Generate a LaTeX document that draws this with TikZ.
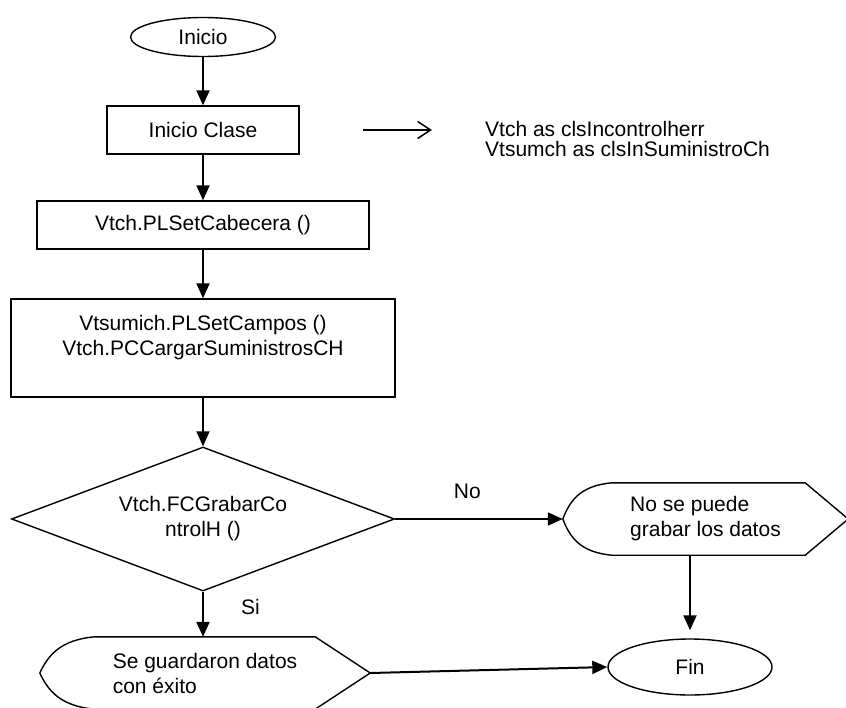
\documentclass[tikz,border=0pt]{standalone}
\usepackage{fontspec}
\setmainfont{Liberation Sans}
\usepackage{tikz}
\usetikzlibrary{
  arrows.meta,      % puntas Triangle y Straight Barb
  shapes.geometric  % elipse y rombo
}
\tikzset{
  paso/.style={
    draw,
    rectangle,
    line width=1.4pt,
    inner sep=0pt,
    align=center
  },
  terminal/.style={
    draw,
    ellipse,
    line width=1.4pt,
    inner sep=0pt
  },
  rombo/.style={
    draw,
    diamond,
    aspect=2.66,
    line width=1.4pt,
    inner sep=0pt,
    align=center
  },
  pantalla/.style={
    rectangle,
    inner sep=0pt,
    align=left
  },
  borde/.style={
    line width=1.4pt,
    line join=miter
  },
  flujo/.style={
    -{Triangle[length=15pt,width=13pt]},
    line width=2pt
  },
  etiqueta/.style={
    inner sep=0pt
  }
}

\begin{document}
\begin{tikzpicture}[x=1pt, y=-1pt, font=\fontsize{21}{25}\selectfont]
    \useasboundingbox (0,0) rectangle (846,707);
    \clip (0,0) rectangle (846,707);

    % --- columna principal ---
    \node[terminal, minimum width=145pt, minimum height=39pt] (inicio) at (203,37) {Inicio};
    \node[paso, minimum width=192pt, minimum height=48pt] (clase) at (203,130) {Inicio Clase};
    \node[paso, minimum width=332pt, minimum height=48pt] (cabecera) at (203,225) {Vtch.PLSetCabecera ()};
    \node[paso, minimum width=384pt, minimum height=98pt] (campos) at (203,348)
      {Vtsumich.PLSetCampos ()\\Vtch.PCCargarSuministrosCH\\\mbox{}};
    \node[rombo, minimum width=383pt, minimum height=144pt] (grabar) at (203,519)
      {Vtch.FCGrabarCo\\ntrolH ()};

    % --- declaraciones ---
    \coordinate (decl ini) at (363,130);
    \coordinate (decl fin) at (432,130);
    \node[anchor=west, align=left, inner sep=0pt, font=\fontsize{21}{20}\selectfont] (clases) at (485,139)
      {Vtch as clsIncontrolherr\\Vtsumch as clsInSuministroCh};
    \draw[line width=1.5pt, -{Straight Barb[length=13pt,width=17pt]}] (decl ini) -- (decl fin);

    % --- salidas ---
    \node[pantalla, minimum width=330pt, minimum height=72pt] (guardado) at (205,673)
      {Se guardaron datos\\con éxito};
    \draw[borde] (guardado.west) .. controls +(8,-17) and +(-35,3) .. ([xshift=55pt]guardado.north west)
      -- ([xshift=-55pt]guardado.north east) -- (guardado.east)
      -- ([xshift=-55pt]guardado.south east) -- ([xshift=55pt]guardado.south west)
      .. controls +(-35,-3) and +(8,17) .. (guardado.west) -- cycle;

    \node[pantalla, minimum width=285pt, minimum height=72pt] (nopuede) at (705.5,519)
      {No se puede\\grabar los datos};
    \draw[borde] (nopuede.west) .. controls +(7,-18) and +(-32,3) .. ([xshift=49pt]nopuede.north west)
      -- ([xshift=-43pt]nopuede.north east) -- (nopuede.east)
      -- ([xshift=-43pt]nopuede.south east) -- ([xshift=49pt]nopuede.south west)
      .. controls +(-32,-3) and +(7,18) .. (nopuede.west) -- cycle;

    \node[terminal, minimum width=164pt, minimum height=56pt] (fin) at (690,667) {Fin};

    % --- flechas ---
    \draw[flujo] (inicio) -- (clase);
    \draw[flujo] (clase) -- (cabecera);
    \draw[flujo] (cabecera) -- (campos);
    \draw[flujo] (campos) -- (grabar);
    \draw[flujo] (grabar.east) -- node[etiqueta, above=19pt, pos=0.43] {No} (nopuede.west);
    \draw[flujo] (grabar.south) -- node[etiqueta, right=37pt, pos=0.35] {Si} (grabar.south |- guardado.north);
    \draw[flujo, shorten >=8pt] (fin.north |- nopuede.south) -- (fin.north);
    \draw[flujo] (guardado.east) -- (fin.west);
\end{tikzpicture}
\end{document}
